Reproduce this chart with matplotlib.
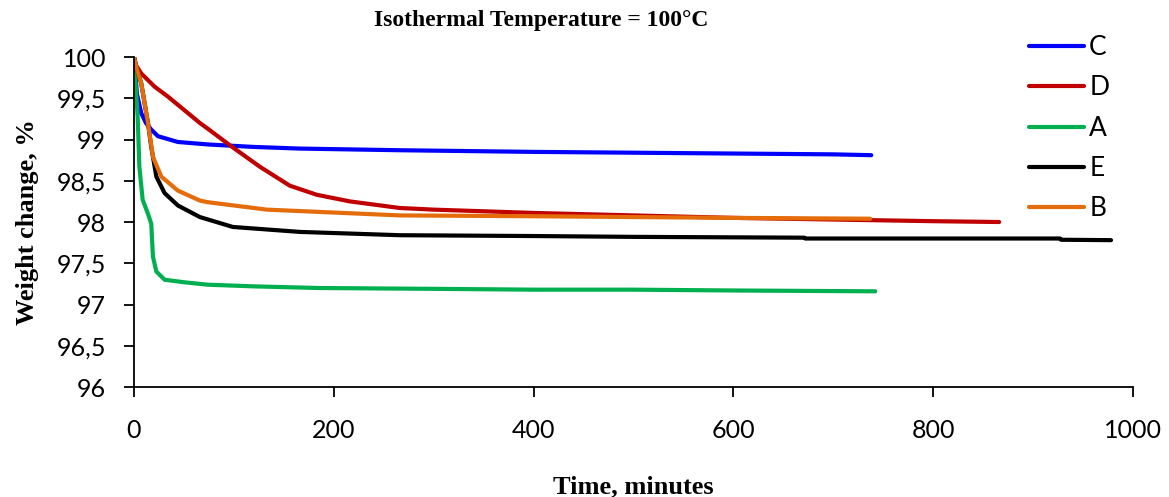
import matplotlib
matplotlib.use("Agg")
import matplotlib.pyplot as plt

# weight change curves, isothermal TGA at 100 C
t_C = [0, 3, 7.3, 12, 17.3, 24, 44, 74, 120, 166, 266, 400, 500, 600, 700, 738]
w_C = [100, 99.55, 99.32, 99.2, 99.12, 99.04, 98.97, 98.94, 98.91, 98.89, 98.87, 98.85, 98.84, 98.83, 98.82, 98.81]

t_D = [0, 2, 7.3, 20.7, 34, 50, 66, 74, 96, 126, 156, 183, 216, 266, 300, 400, 500, 600, 700, 800, 866]
w_D = [100, 99.9, 99.8, 99.64, 99.52, 99.36, 99.2, 99.13, 98.93, 98.67, 98.44, 98.33, 98.25, 98.17, 98.15, 98.11, 98.08, 98.05, 98.03, 98.01, 98.0]

t_A = [0, 1.5, 3.7, 5.4, 8.7, 14, 17.3, 19, 22.4, 30.7, 50, 74, 120, 185, 300, 400, 500, 600, 742]
w_A = [100, 99.7, 99.28, 98.67, 98.27, 98.1, 97.98, 97.58, 97.4, 97.3, 97.27, 97.24, 97.22, 97.2, 97.19, 97.18, 97.18, 97.17, 97.16]

t_E = [0, 3, 7.3, 14, 17.3, 22.4, 30.7, 44, 66, 99, 166, 266, 400, 500, 671, 672, 927, 928, 978]
w_E = [100, 99.85, 99.68, 99.2, 98.91, 98.55, 98.35, 98.2, 98.06, 97.94, 97.88, 97.84, 97.83, 97.82, 97.81, 97.80, 97.80, 97.785, 97.78]

t_B = [0, 3, 7.3, 14, 19, 27.4, 44, 66, 74, 133, 266, 400, 500, 600, 737]
w_B = [100, 99.85, 99.68, 99.2, 98.79, 98.55, 98.38, 98.26, 98.24, 98.15, 98.08, 98.07, 98.06, 98.05, 98.04]

series = [('C', t_C, w_C, '#0000ff'),
          ('D', t_D, w_D, '#c00000'),
          ('A', t_A, w_A, '#00b050'),
          ('E', t_E, w_E, '#000000'),
          ('B', t_B, w_B, '#e46c0a')]

y_ticks = [96, 96.5, 97, 97.5, 98, 98.5, 99, 99.5, 100]
x_ticks = [0, 200, 400, 600, 800, 1000]

fig = plt.figure(figsize=(11.69, 4.97), dpi=100)
ax = fig.add_axes([0.1146, 0.2213, 0.8546, 0.664])

for name, t, w, c in series:
    ax.plot(t, w, color=c, lw=3.0, label=name, solid_capstyle='round')

ax.set_xlim(0, 1000)
ax.set_ylim(96, 100)
ax.set_xticks(x_ticks)
ax.set_yticks(y_ticks)
ax.set_yticklabels([('%g' % v).replace('.', ',') for v in y_ticks])
for lab in ax.get_xticklabels() + ax.get_yticklabels():
    lab.set_fontfamily('Lato')
    lab.set_fontsize(18)
ax.tick_params(direction='out', length=7, width=1.3)
ax.tick_params(axis='y', pad=13)
ax.tick_params(axis='x', pad=16)
for s in ['top', 'right']:
    ax.spines[s].set_visible(False)
for s in ['left', 'bottom']:
    ax.spines[s].set_linewidth(1.3)

ax.set_xlabel('Time, minutes', fontfamily='Liberation Serif', fontweight='bold', fontsize=19, labelpad=24)
ax.set_ylabel('Weight change, %', fontfamily='Liberation Serif', fontweight='bold', fontsize=19, labelpad=13)
fig.text(0.463, 0.958, 'Isothermal Temperature = 100\u00b0C', ha='center', va='center',
         fontfamily='Liberation Serif', fontweight='bold', fontsize=17)

leg = fig.legend(loc='upper left', bbox_to_anchor=(0.8595, 0.977), frameon=False,
                 prop={'family': 'Lato', 'size': 19}, handlelength=2.1,
                 handletextpad=0.2, labelspacing=0.58)

fig.savefig('out.png', dpi=100)
